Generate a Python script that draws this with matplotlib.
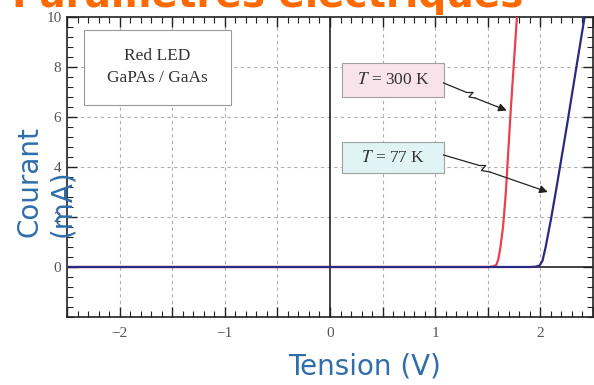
import numpy as np
import matplotlib
matplotlib.use("Agg")
import matplotlib.pyplot as plt
from matplotlib.patches import Rectangle
from matplotlib.ticker import MultipleLocator

# I-V curves
v_300 = [-2.5, 1.50, 1.55, 1.58, 1.60, 1.62, 1.645, 1.67, 1.72, 1.777]
i_300 = [0.0, 0.0, 0.02, 0.08, 0.3, 0.8, 1.6, 2.9, 6.4, 10.0]
v_77 = [-2.5, 1.90, 1.95, 1.99, 2.02, 2.05, 2.10, 2.15, 2.25, 2.35, 2.42]
i_77 = [0.0, 0.0, 0.01, 0.05, 0.25, 0.8, 1.9, 3.1, 5.6, 8.2, 10.0]

x_ticks = [-2, -1, 0, 1, 2]
y_ticks = [0, 2, 4, 6, 8, 10]

plt.rcParams['mathtext.fontset'] = 'stix'

fig = plt.figure(figsize=(5.94, 3.85), dpi=100)
ax = fig.add_axes([67/594, 1 - 317/385, 526/594, 300/385])

ax.set_xlim(-2.5, 2.5)
ax.set_ylim(-2, 10)

# dashed grid, solid axes through origin
for gx in np.arange(-2.0, 2.01, 0.5):
    if abs(gx) > 1e-9:
        ax.axvline(gx, color='#b0b0b0', lw=0.8, ls=(0, (3, 3)), zorder=1)
for gy in [2, 4, 6, 8]:
    ax.axhline(gy, color='#b0b0b0', lw=0.8, ls=(0, (3, 3)), zorder=1)
ax.axvline(0, color='#222222', lw=1.2, zorder=2)
ax.axhline(0, color='#222222', lw=1.2, zorder=2)

ax.plot(v_300, i_300, color='#e8424f', lw=1.6, zorder=4)
ax.plot(v_77, i_77, color='#2b2a80', lw=1.6, zorder=5)

# ticks
ax.xaxis.set_major_locator(MultipleLocator(0.5))
ax.xaxis.set_minor_locator(MultipleLocator(0.1))
ax.yaxis.set_major_locator(MultipleLocator(2))
ax.yaxis.set_minor_locator(MultipleLocator(0.4))
ax.set_xticks(np.arange(-2.5, 2.51, 0.5))
ax.set_xticklabels(['' if t not in x_ticks else ('\u2212%d' % -t if t < 0 else '%d' % t)
                    for t in np.arange(-2.5, 2.51, 0.5)])
ax.set_yticks(y_ticks)
ax.set_yticklabels([str(t) for t in y_ticks])
ax.tick_params(which='both', direction='in', top=True, right=True, color='#222222')
ax.tick_params(which='major', length=7, width=1.0)
ax.tick_params(which='minor', length=4, width=0.8)
ax.tick_params(axis='x', pad=7)
ax.tick_params(axis='y', pad=4)
for lab in ax.get_xticklabels() + ax.get_yticklabels():
    lab.set_fontfamily('Liberation Serif')
    lab.set_fontsize(11)
    lab.set_color('#555555')
for s in ax.spines.values():
    s.set_color('#222222')
    s.set_linewidth(1.2)

# legend box
ax.add_patch(Rectangle((-2.34, 6.48), 1.40, 3.0, facecolor='white',
                       edgecolor='#999999', lw=0.8, zorder=6))
ax.text(-1.64, 8.45, 'Red LED', ha='center', va='center', fontsize=12.5,
        family='Liberation Serif', color='#333333', zorder=7)
ax.text(-1.64, 7.55, 'GaPAs / GaAs', ha='center', va='center', fontsize=12.5,
        family='Liberation Serif', color='#333333', zorder=7)

# temperature labels
ax.add_patch(Rectangle((0.114, 6.8), 0.97, 1.36, facecolor='#f8e3eb',
                       edgecolor='#a0a0a0', lw=0.8, zorder=6))
ax.text(0.60, 7.48, '$T$ = 300 K', ha='center', va='center', fontsize=12.5,
        family='Liberation Serif', color='#333333', zorder=7)
ax.add_patch(Rectangle((0.114, 3.76), 0.97, 1.24, facecolor='#e0f3f5',
                       edgecolor='#a0a0a0', lw=0.8, zorder=6))
ax.text(0.60, 4.38, '$T$ = 77 K', ha='center', va='center', fontsize=12.5,
        family='Liberation Serif', color='#333333', zorder=7)

# zigzag arrows
ax.plot([1.08, 1.30, 1.36, 1.32, 1.38], [7.36, 6.98, 6.98, 6.80, 6.76],
        color='#222222', lw=0.9, zorder=6)
ax.annotate('', xy=(1.68, 6.26), xytext=(1.38, 6.76),
            arrowprops=dict(arrowstyle='-|>', color='#222222', lw=0.9,
                            mutation_scale=12, shrinkA=0, shrinkB=0), zorder=6)
ax.plot([1.08, 1.42, 1.48, 1.44, 1.52], [4.48, 4.06, 4.06, 3.86, 3.80],
        color='#222222', lw=0.9, zorder=6)
ax.annotate('', xy=(2.07, 3.0), xytext=(1.52, 3.80),
            arrowprops=dict(arrowstyle='-|>', color='#222222', lw=0.9,
                            mutation_scale=12, shrinkA=0, shrinkB=0), zorder=6)

# slide texts
fig.text(523/594, 1 - 7/385, 'Paramètres électriques', ha='right', va='baseline',
         fontsize=28, fontweight='bold', color='#ff6a00')
fig.text(365/594, 1 - 367/385, 'Tension (V)', ha='center', va='center',
         fontsize=20, color='#2f6eaa')
fig.text(46/594, 1 - 237/385, 'Courant\n(mA)', ha='center', va='bottom',
         rotation=90, multialignment='left', fontsize=20, color='#2f6eaa')

fig.savefig('out.png', dpi=100, facecolor='white')
